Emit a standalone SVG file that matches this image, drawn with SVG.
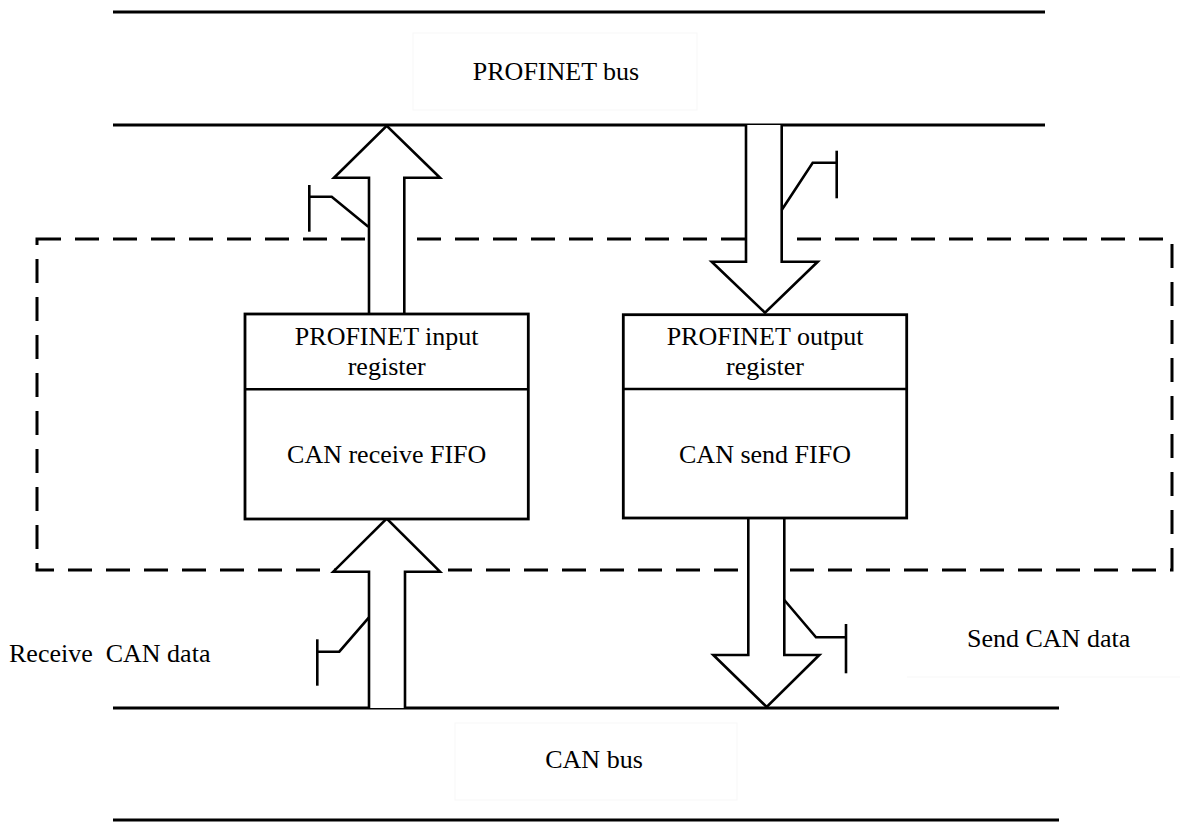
<svg xmlns="http://www.w3.org/2000/svg" width="1180" height="822" viewBox="0 0 1180 822">
<style>
.bus{stroke:#000;stroke-width:3;fill:none}
.ln{stroke:#000;stroke-width:2.6;fill:none}
.arrow{stroke:#000;stroke-width:2.6;fill:#fff;stroke-linejoin:miter}
.box{stroke:#000;stroke-width:2.8;fill:#fff}
.dash{stroke:#000;stroke-width:3;fill:none;stroke-dasharray:24 14}
.faint{stroke:#f7f7f7;stroke-width:1;fill:none}
text{font-family:'Liberation Serif',serif;font-size:26px;fill:#000}
.c{text-anchor:middle}
</style>
<rect width="1180" height="822" fill="#fff"/>
<g id="faint-frames">
<rect class="faint" x="413" y="33" width="284" height="77"/>
<rect class="faint" x="455" y="723" width="282" height="77"/>
<line class="faint" x1="907" y1="677" x2="1180" y2="677"/>
</g>
<g id="profinet-bus">
<line class="bus" x1="113" y1="12" x2="1045" y2="12"/>
<line class="bus" x1="113" y1="125" x2="1045" y2="125"/>
<text class="c" x="556" y="80" font-family="Liberation Serif, serif">PROFINET bus</text>
</g>
<g id="can-bus">
<line class="bus" x1="113" y1="708" x2="1059" y2="708"/>
<line class="bus" x1="113" y1="820" x2="1059" y2="820"/>
<text class="c" x="594" y="768" font-family="Liberation Serif, serif">CAN bus</text>
</g>
<g id="module-boundary">
<rect class="dash" x="37" y="239" width="1135" height="331"/>
</g>
<g id="connectors">
<polyline class="arrow" points="369,313 369,177.7 334,177.7 386.7,125.7 440,177.7 404.3,177.7 404.3,313"/>
<polyline class="arrow" points="746,125 746,261.7 711.7,261.7 765,312.7 817.7,261.7 781.7,261.7 781.7,125"/>
<polyline class="arrow" points="369,708 369,571.7 333.3,571.7 386.7,518.5 440,571.7 405,571.7 405,708"/>
<polyline class="arrow" points="748.3,518 748.3,655 713.3,655 766.7,707 819.3,655 784.3,655 784.3,518"/>
<g id="switches">
<polyline class="ln" points="368.3,226.7 331.7,196.7 309.3,196.7"/>
<line class="ln" x1="309.3" y1="185" x2="309.3" y2="231.7"/>
<polyline class="ln" points="781.7,210 812.7,162.7 836.7,162.7"/>
<line class="ln" x1="836.7" y1="150.7" x2="836.7" y2="198.3"/>
<polyline class="ln" points="369,617.3 339.3,651.7 317.3,651.7"/>
<line class="ln" x1="317.3" y1="639.3" x2="317.3" y2="685.7"/>
<polyline class="ln" points="784.3,600 816,637.3 846,637.3"/>
<line class="ln" x1="846" y1="624" x2="846" y2="673.3"/>
</g>
</g>
<g id="receive-block" font-family="Liberation Serif, serif">
<rect class="box" x="245" y="314" width="283.3" height="205"/>
<line class="ln" x1="245" y1="389.3" x2="528.3" y2="389.3"/>
<text class="c" x="386.7" y="345">PROFINET input</text>
<text class="c" x="386.7" y="375">register</text>
<text class="c" x="386.7" y="463">CAN receive FIFO</text>
</g>
<g id="send-block" font-family="Liberation Serif, serif">
<rect class="box" x="623.3" y="314.7" width="283.4" height="203.3"/>
<line class="ln" x1="623.3" y1="389" x2="906.7" y2="389"/>
<text class="c" x="765" y="345">PROFINET output</text>
<text class="c" x="765" y="375">register</text>
<text class="c" x="765" y="463">CAN send FIFO</text>
</g>
<g id="labels" font-family="Liberation Serif, serif">
<text x="9" y="662" style="white-space:pre">Receive  CAN data</text>
<text x="967" y="647">Send CAN data</text>
</g>
</svg>
